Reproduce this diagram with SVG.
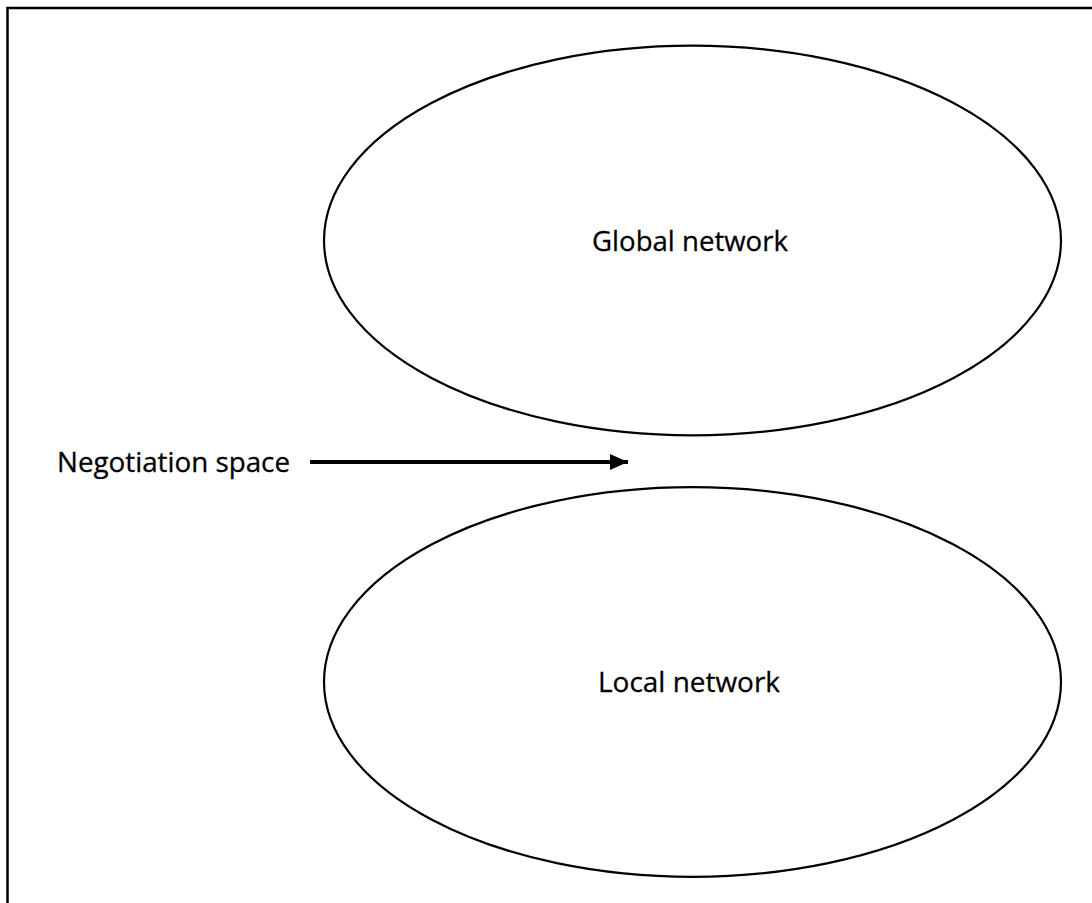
<svg xmlns="http://www.w3.org/2000/svg" width="1092" height="903" viewBox="0 0 1092 903">
  <style>
    .frame { fill: none; stroke: #000; stroke-width: 2.5; }
    .node-shape { fill: none; stroke: #000; stroke-width: 2.2; }
    .label { font-family: "Open Sans", "Liberation Sans", sans-serif; font-size: 28px; fill: #000; stroke: #000; stroke-width: 0.3; }
    .edge { stroke: #000; stroke-width: 4; fill: none; }
  </style>
  <defs>
    <marker id="arrowhead" markerUnits="userSpaceOnUse" markerWidth="18" markerHeight="16" refX="18" refY="8" orient="auto">
      <path d="M0,0 L18,8 L0,16 Z" fill="#000"/>
    </marker>
  </defs>
  <rect width="1092" height="903" fill="#fff"/>
  <!-- top and left frame edges -->
  <path class="frame" d="M7.5,903 L7.5,8 L1092,8"/>

  <g id="global-network">
    <ellipse class="node-shape" cx="692.5" cy="240.5" rx="368.5" ry="194.8"/>
    <text class="label" x="690" y="251" text-anchor="middle" textLength="196" lengthAdjust="spacingAndGlyphs">Global network</text>
  </g>

  <g id="local-network">
    <ellipse class="node-shape" cx="692.5" cy="682" rx="368.5" ry="194.8"/>
    <text class="label" x="689" y="692" text-anchor="middle" textLength="182" lengthAdjust="spacingAndGlyphs">Local network</text>
  </g>

  <g id="negotiation-space">
    <text class="label" x="57" y="472" textLength="233" lengthAdjust="spacingAndGlyphs">Negotiation space</text>
  </g>

  <g id="connectors">
    <line class="edge" x1="310" y1="462" x2="628" y2="462" marker-end="url(#arrowhead)"/>
  </g>
</svg>
